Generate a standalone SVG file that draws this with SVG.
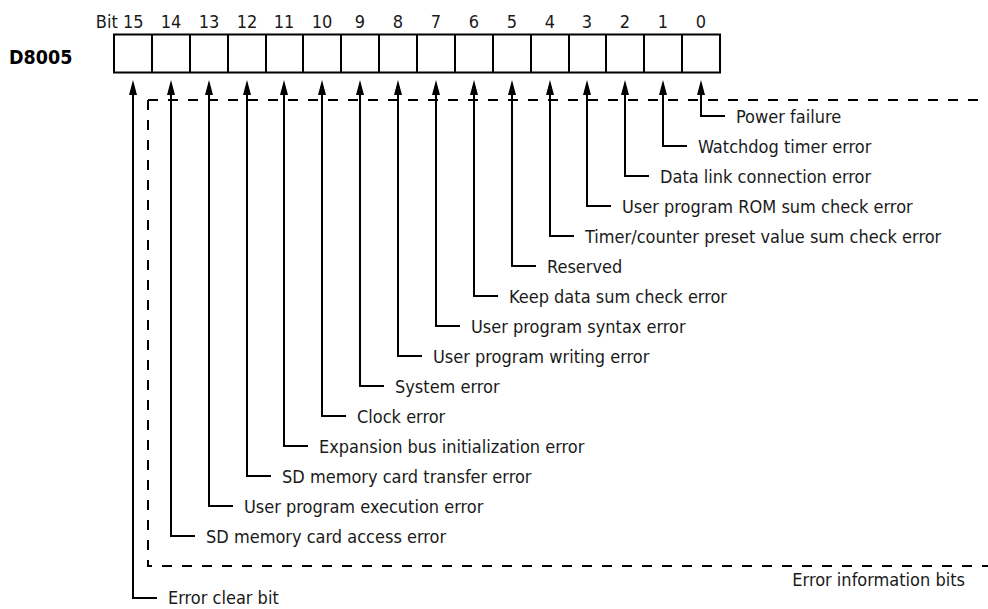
<svg xmlns="http://www.w3.org/2000/svg" width="988" height="609" viewBox="0 0 988 609">
<style>
text{font-family:"DejaVu Sans Condensed","DejaVu Sans",sans-serif;font-stretch:condensed;font-size:18px;fill:#1a1a1a}
.num{text-anchor:middle}
.reg{font-weight:bold;font-size:19.5px;fill:#000}
.ln{fill:none;stroke:#000;stroke-width:2}
.arr{fill:none;stroke:#000;stroke-width:2;marker-end:url(#ah)}
.dash{fill:none;stroke:#000;stroke-width:2;stroke-dasharray:10 10}
</style>
<defs>
<marker id="ah" markerUnits="userSpaceOnUse" orient="auto" refX="0" refY="0" markerWidth="20" markerHeight="12" viewBox="-2 -6 20 12" overflow="visible">
<path d="M-1,-4 L14,0 L-1,4 z" fill="#000"/>
</marker>
</defs>
<g id="register">
<text class="reg" x="9" y="63.5">D8005</text>
<rect class="ln" x="114" y="34.5" width="606" height="38"/>
<path class="ln" d="M152,34.5V72.5M190,34.5V72.5M228,34.5V72.5M266,34.5V72.5M303,34.5V72.5M341,34.5V72.5M379,34.5V72.5M417,34.5V72.5M455,34.5V72.5M493,34.5V72.5M531,34.5V72.5M569,34.5V72.5M606,34.5V72.5M644,34.5V72.5M682,34.5V72.5"/>
<text x="143.5" y="28" text-anchor="end">Bit 15</text>
<text class="num" x="171" y="28">14</text>
<text class="num" x="209" y="28">13</text>
<text class="num" x="247" y="28">12</text>
<text class="num" x="284" y="28">11</text>
<text class="num" x="322" y="28">10</text>
<text class="num" x="360" y="28">9</text>
<text class="num" x="398" y="28">8</text>
<text class="num" x="436" y="28">7</text>
<text class="num" x="474" y="28">6</text>
<text class="num" x="512" y="28">5</text>
<text class="num" x="550" y="28">4</text>
<text class="num" x="587" y="28">3</text>
<text class="num" x="625" y="28">2</text>
<text class="num" x="663" y="28">1</text>
<text class="num" x="701" y="28">0</text>
</g>
<g id="error-info-group">
<path class="dash" d="M148,100H988"/>
<path class="dash" d="M148,100V566H988"/>
<text x="965" y="586" text-anchor="end">Error information bits</text>
</g>
<g id="connectors">
<path class="arr" d="M725,116H701V94"/>
<path class="arr" d="M687,146H663V94"/>
<path class="arr" d="M649,176H625V94"/>
<path class="arr" d="M611,206H587V94"/>
<path class="arr" d="M574,236H550V94"/>
<path class="arr" d="M536,266H512V94"/>
<path class="arr" d="M498,296H474V94"/>
<path class="arr" d="M460,326H436V94"/>
<path class="arr" d="M422,356H398V94"/>
<path class="arr" d="M384,386H360V94"/>
<path class="arr" d="M346,416H322V94"/>
<path class="arr" d="M308,446H284V94"/>
<path class="arr" d="M271,476H247V94"/>
<path class="arr" d="M233,506H209V94"/>
<path class="arr" d="M195,536H171V94"/>
<path class="arr" d="M157,598H133V94"/>
</g>
<g id="bit0"><text x="736" y="123">Power failure</text></g>
<g id="bit1"><text x="698" y="153">Watchdog timer error</text></g>
<g id="bit2"><text x="660" y="183">Data link connection error</text></g>
<g id="bit3"><text x="622" y="213">User program ROM sum check error</text></g>
<g id="bit4"><text x="585" y="243">Timer/counter preset value sum check error</text></g>
<g id="bit5"><text x="547" y="273">Reserved</text></g>
<g id="bit6"><text x="509" y="303">Keep data sum check error</text></g>
<g id="bit7"><text x="471" y="333">User program syntax error</text></g>
<g id="bit8"><text x="433" y="363">User program writing error</text></g>
<g id="bit9"><text x="395" y="393">System error</text></g>
<g id="bit10"><text x="357" y="423">Clock error</text></g>
<g id="bit11"><text x="319" y="453">Expansion bus initialization error</text></g>
<g id="bit12"><text x="282" y="483">SD memory card transfer error</text></g>
<g id="bit13"><text x="244" y="513">User program execution error</text></g>
<g id="bit14"><text x="206" y="543">SD memory card access error</text></g>
<g id="bit15"><text x="168" y="604">Error clear bit</text></g>
</svg>
